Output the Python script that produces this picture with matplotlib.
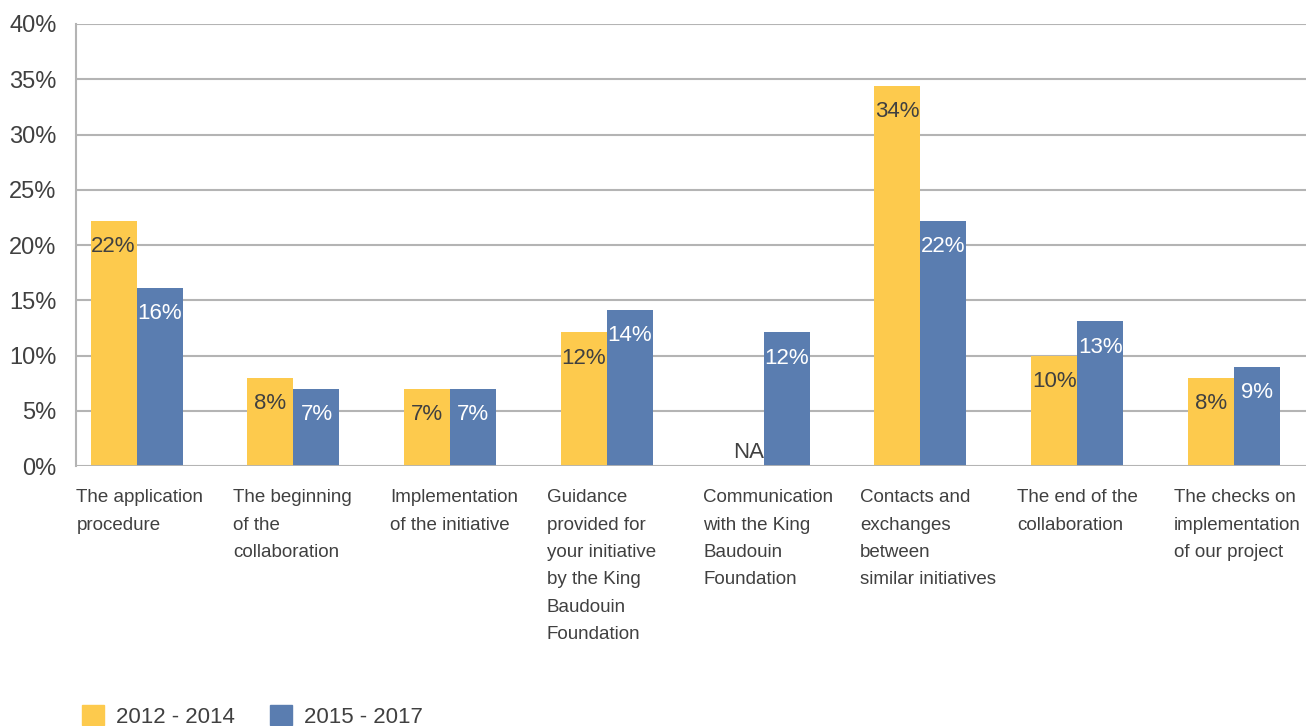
import numpy as np
import matplotlib.pyplot as plt
from matplotlib.patches import Patch

categories = [
    "The application\nprocedure",
    "The beginning\nof the\ncollaboration",
    "Implementation\nof the initiative",
    "Guidance\nprovided for\nyour initiative\nby the King\nBaudouin\nFoundation",
    "Communication\nwith the King\nBaudouin\nFoundation",
    "Contacts and\nexchanges\nbetween\nsimilar initiatives",
    "The end of the\ncollaboration",
    "The checks on\nimplementation\nof our project",
]
series_names = ["2012 - 2014", "2015 - 2017"]
vals_2012 = [22.2, 8.0, 7.0, 12.1, np.nan, 34.4, 10.0, 8.0]
vals_2015 = [16.1, 7.0, 7.0, 14.1, 12.1, 22.2, 13.1, 9.0]
yticks = [0, 5, 10, 15, 20, 25, 30, 35, 40]

YELLOW = "#FDCA4D"
BLUE = "#5A7DB0"
DARK = "#404040"
GRID = "#B4B4B4"

plt.rcParams['font.family'] = ['Liberation Sans', 'DejaVu Sans']

fig = plt.figure(figsize=(13.06, 7.26), dpi=100)
ax = fig.add_axes([76 / 1306, 1 - 466 / 726, (1306 - 76) / 1306, 442 / 726])

x = np.arange(len(categories))
w = 0.294
ax.bar(x - w / 2, vals_2012, w, color=YELLOW, zorder=2)
ax.bar(x + w / 2, vals_2015, w, color=BLUE, zorder=2)

# value labels just inside the bar tops
for i in range(len(categories)):
    v = vals_2012[i]
    if np.isnan(v):
        ax.text(x[i] + 0.0, 0.3, "NA", ha="right", va="bottom", fontsize=16, color=DARK)
    else:
        ax.annotate(f"{v:.0f}%", (x[i] - w / 2, v), xytext=(0, -11), textcoords="offset points",
                    ha="center", va="top", fontsize=16, color=DARK)
    v = vals_2015[i]
    ax.annotate(f"{v:.0f}%", (x[i] + w / 2, v), xytext=(0, -11), textcoords="offset points",
                ha="center", va="top", fontsize=16, color="white")

# category labels, left aligned below each group
for i, lab in enumerate(categories):
    ax.text(x[i] - 0.385, -2.1, lab, ha="left", va="top", fontsize=13.5, color=DARK,
            linespacing=1.8)

ax.set_xlim(-0.387, 7.46)
ax.set_ylim(0, 40)
ax.set_yticks(yticks)
ax.set_yticklabels([f"{t}%" for t in yticks], fontsize=17, color=DARK)
ax.set_xticks([])
ax.tick_params(axis="y", length=0, pad=14)
ax.grid(axis="y", color=GRID, linewidth=1.5, zorder=0)
for s in ["top", "right", "bottom"]:
    ax.spines[s].set_visible(False)
ax.spines["left"].set_color(GRID)
ax.spines["left"].set_linewidth(1.5)
ax.axhline(0, color=GRID, linewidth=2, zorder=3)

handles = [Patch(color=YELLOW), Patch(color=BLUE)]
fig.legend(handles, series_names, loc="lower left", bbox_to_anchor=(62 / 1306, -0.03), ncol=2,
           frameon=False, fontsize=16, handlelength=1.0, handleheight=1.0, columnspacing=1.55,
           handletextpad=0.55, labelcolor=DARK)

fig.savefig("out.png", dpi=100)
